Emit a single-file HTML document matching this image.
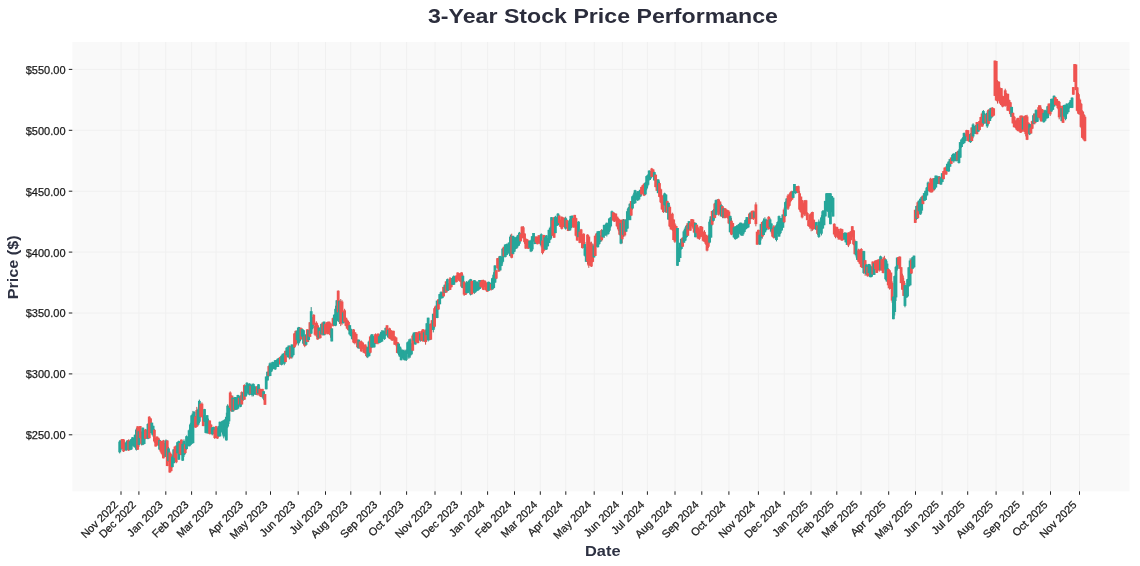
<!DOCTYPE html>
<html><head><meta charset="utf-8"><style>
html,body{margin:0;padding:0;background:#fff;}
body{width:1140px;height:566px;overflow:hidden;}
svg{display:block;will-change:transform;}
.g{fill:#26a69a}.r{fill:#ef5350}
.tl{font-family:"Liberation Sans",sans-serif;font-size:11px;fill:#1a1a1a;stroke:#1a1a1a;stroke-width:0.25px;}
.ti{font-family:"Liberation Sans",sans-serif;font-size:20.5px;font-weight:bold;fill:#2b2d3c;}
.al{font-family:"Liberation Sans",sans-serif;font-size:15px;font-weight:bold;fill:#2d3142;}
</style></head><body>
<svg width="1140" height="566" viewBox="0 0 1140 566">
<rect x="72.3" y="42" width="1057.2" height="449.3" fill="#f9f9f9"/>
<path d="M121.0 42V491.3M138.9 42V491.3M165.8 42V491.3M191.6 42V491.3M216.1 42V491.3M246.1 42V491.3M270.5 42V491.3M298.2 42V491.3M325.5 42V491.3M350.8 42V491.3M380.3 42V491.3M406.6 42V491.3M435.0 42V491.3M461.3 42V491.3M487.6 42V491.3M514.5 42V491.3M540.3 42V491.3M565.8 42V491.3M594.2 42V491.3M622.4 42V491.3M647.4 42V491.3M675.0 42V491.3M701.8 42V491.3M728.9 42V491.3M758.4 42V491.3M784.2 42V491.3M811.0 42V491.3M836.8 42V491.3M861.0 42V491.3M888.7 42V491.3M915.5 42V491.3M942.1 42V491.3M967.7 42V491.3M996.1 42V491.3M1023.0 42V491.3M1050.5 42V491.3M1079.5 42V491.3M72.3 434.8H1129.5M72.3 373.9H1129.5M72.3 313.0H1129.5M72.3 252.1H1129.5M72.3 191.2H1129.5M72.3 130.3H1129.5M72.3 69.4H1129.5" stroke="#f0f0f0" stroke-width="1" fill="none"/>
<path d="M119.70 440.3V453.4M120.99 439.6V450.5M126.13 441.5V451.0M127.41 440.4V450.1M129.98 441.1V450.2M131.27 439.0V449.8M132.55 437.2V445.5M133.84 437.9V446.6M135.12 434.2V447.8M136.41 427.9V450.5M138.98 429.7V446.8M142.83 427.5V445.2M144.12 432.1V444.1M147.97 423.2V439.2M151.83 422.6V434.6M153.12 425.8V436.8M159.54 439.2V449.7M165.97 439.4V457.1M168.54 446.9V461.9M172.39 455.3V467.4M173.68 449.3V463.2M177.53 442.2V453.3M178.82 440.7V459.8M182.68 441.8V460.9M183.96 439.4V457.0M186.53 435.5V449.8M187.82 436.9V445.9M189.10 429.5V446.3M190.39 422.8V445.6M191.67 415.2V443.8M192.96 410.9V443.3M194.24 411.5V427.1M198.10 408.5V425.7M199.38 399.6V423.1M204.52 408.9V422.1M205.81 417.4V433.3M207.09 415.1V433.8M208.38 418.6V433.4M212.24 427.3V435.3M213.52 426.7V434.3M218.66 425.9V437.0M219.95 421.5V436.5M221.23 422.2V432.3M222.52 420.7V434.6M223.80 420.0V438.4M225.09 418.9V436.5M226.37 412.7V440.5M227.66 404.3V428.1M228.94 405.8V424.0M232.80 395.5V411.7M235.37 397.0V410.0M236.65 397.5V409.6M237.94 394.8V409.2M240.51 395.4V407.2M243.08 392.2V401.0M245.65 385.3V396.6M246.94 382.2V395.1M248.22 383.9V393.8M249.51 383.4V395.3M252.08 383.6V396.5M253.36 383.5V396.3M254.65 385.7V394.0M255.93 386.8V394.9M258.50 384.1V394.4M263.64 391.0V400.2M266.22 376.5V389.3M267.50 371.7V380.4M270.07 362.4V376.1M271.36 363.3V371.9M272.64 361.8V370.1M273.93 362.5V368.0M275.21 360.0V369.9M276.50 359.9V367.2M277.78 358.6V367.0M279.07 357.6V364.4M281.64 355.3V365.4M282.92 353.8V361.5M284.21 352.7V365.2M286.78 347.3V355.2M288.06 345.5V357.4M289.35 345.5V359.4M291.92 344.4V358.5M293.20 344.9V355.6M297.06 330.0V340.2M298.35 326.9V345.5M299.63 327.0V342.8M302.20 328.5V336.9M303.49 329.9V344.8M306.06 334.2V345.7M308.63 329.9V342.1M311.20 307.1V333.9M312.48 317.1V329.3M318.91 327.5V338.8M321.48 323.8V334.5M324.05 321.6V335.4M331.76 328.1V341.4M334.33 314.1V325.7M335.62 305.7V326.2M336.90 300.1V321.8M339.47 300.4V323.9M343.33 311.4V323.3M349.75 325.0V334.6M351.04 328.6V336.4M352.32 331.7V339.8M358.75 339.6V348.6M367.75 346.8V358.1M369.03 340.6V356.4M371.60 334.2V348.2M372.89 334.0V347.8M374.17 337.3V347.6M379.31 335.0V343.2M380.60 332.1V342.2M381.88 330.0V341.9M383.17 330.5V337.4M384.46 331.4V339.8M385.74 327.6V336.1M388.31 328.9V338.1M398.59 342.7V355.2M399.88 346.3V356.9M401.16 348.4V360.3M402.45 349.5V357.9M403.73 349.7V359.8M405.02 349.7V360.4M406.30 349.5V360.9M407.59 342.3V353.8M408.87 339.3V358.8M410.16 338.4V357.7M411.44 343.4V354.5M414.02 332.5V342.0M415.30 332.2V344.6M420.44 333.1V341.6M424.30 331.1V341.7M426.87 323.2V337.9M428.15 317.7V341.5M429.44 324.1V340.2M433.29 313.6V332.4M437.15 300.4V318.2M439.72 294.1V304.5M441.00 291.3V298.7M442.29 291.8V298.2M444.86 284.6V293.1M447.43 278.6V291.4M448.72 283.1V291.0M452.57 276.9V285.0M453.86 275.3V285.0M455.14 276.4V282.3M462.85 274.5V288.3M466.71 281.0V293.8M467.99 281.7V292.9M469.28 280.4V291.7M470.56 278.9V295.4M474.42 280.0V293.8M475.71 280.8V292.6M476.99 281.2V290.9M478.28 283.0V290.5M479.56 280.0V289.1M488.56 281.7V290.9M489.84 282.3V290.2M492.41 277.6V289.7M493.70 272.2V288.6M494.98 265.1V282.8M500.13 255.8V270.5M501.41 256.9V266.1M502.70 248.1V263.5M505.27 244.5V257.4M506.55 243.7V255.2M507.84 243.5V254.3M509.12 242.1V250.7M510.41 234.6V256.4M512.98 235.7V254.6M514.26 237.0V252.0M515.55 237.6V249.3M516.83 236.3V249.0M518.12 234.9V246.4M519.40 231.9V245.5M529.69 240.6V247.8M530.97 239.7V252.1M532.26 236.0V251.0M533.54 233.0V241.6M534.83 236.2V244.2M541.25 233.4V247.3M545.11 237.0V249.9M546.39 235.1V249.8M547.68 237.9V246.4M548.96 229.6V243.1M550.25 226.6V240.1M551.53 217.2V238.4M555.39 215.8V233.2M556.67 217.7V226.1M557.96 213.0V225.4M565.67 216.7V229.6M569.53 219.3V230.5M570.81 215.9V230.3M572.10 215.2V223.5M578.52 221.3V237.1M584.95 242.0V256.5M586.23 247.2V261.9M593.95 243.8V257.6M597.80 231.4V247.5M599.09 230.9V244.7M600.37 235.5V242.1M602.94 229.7V238.4M604.23 224.7V237.9M605.51 224.2V235.6M606.80 222.7V236.5M608.08 223.6V234.5M609.37 218.4V232.1M610.65 217.1V227.7M611.94 210.6V220.4M620.94 221.6V244.2M623.51 219.1V236.8M626.08 219.4V231.8M627.36 208.9V228.7M628.65 207.0V220.0M629.93 203.3V220.2M632.50 196.2V209.6M633.79 192.7V203.8M635.07 189.8V203.2M636.36 193.1V199.6M637.64 191.2V200.9M638.93 191.1V200.3M640.21 189.8V196.8M645.35 182.0V195.0M646.64 175.7V190.3M647.93 174.2V186.3M649.21 170.3V180.5M650.50 171.0V179.9M654.35 171.7V180.6M658.21 179.2V193.3M664.63 192.7V205.6M665.92 194.1V212.5M668.49 202.5V219.6M677.49 228.0V265.8M678.77 247.8V262.0M680.06 242.8V258.0M681.34 238.4V249.6M683.91 230.2V243.0M685.20 227.0V241.0M686.48 225.0V237.7M689.05 221.1V229.8M695.48 222.8V237.2M709.62 219.4V243.4M710.90 216.3V237.7M713.47 209.1V221.6M716.04 199.5V215.4M717.33 199.1V212.4M721.18 203.8V216.5M723.75 207.7V218.2M730.18 215.7V232.9M734.04 227.2V237.8M735.32 226.1V239.7M736.61 225.3V238.6M737.89 224.8V237.6M739.18 223.7V233.0M740.46 222.7V234.8M741.75 222.8V235.7M743.03 223.1V235.9M744.32 222.6V232.5M745.60 219.5V229.7M746.89 217.1V228.5M748.17 217.8V227.6M750.74 212.4V219.5M754.60 211.7V218.2M759.74 234.3V244.9M761.02 223.7V240.4M763.60 218.4V235.7M764.88 217.3V232.6M766.17 218.7V230.4M770.02 218.2V227.7M771.31 223.4V233.5M775.16 226.5V237.8M776.45 224.2V241.4M777.73 221.4V234.0M779.02 215.5V236.6M780.30 218.0V234.2M781.59 218.2V230.6M782.87 214.5V228.0M785.44 201.3V216.7M786.73 198.3V208.3M793.16 191.2V198.3M794.44 184.0V193.1M795.73 186.4V194.1M816.29 221.9V230.2M818.86 219.5V237.9M820.14 221.3V232.9M821.43 215.2V235.4M822.72 210.3V229.0M824.00 210.2V225.2M825.29 200.9V216.3M826.57 193.3V210.6M827.86 193.3V211.7M829.14 193.3V217.6M830.43 193.3V224.2M831.71 196.0V212.2M833.00 197.7V216.5M844.56 232.4V239.5M845.85 232.2V242.4M847.13 235.8V244.9M856.13 241.0V257.5M857.42 250.7V260.2M863.84 250.8V273.9M866.41 264.4V275.1M868.98 263.9V273.3M870.27 264.7V277.4M871.55 266.5V277.2M874.12 263.2V274.9M880.55 255.7V270.4M885.69 259.2V280.2M886.98 261.1V281.7M893.40 296.6V319.2M894.69 275.6V315.5M895.97 265.9V301.0M897.26 257.3V270.5M904.97 282.9V307.3M906.25 285.2V297.9M907.54 278.9V297.2M908.82 267.3V286.5M910.11 258.3V285.3M912.68 257.0V269.3M913.97 255.5V267.9M916.54 205.6V220.0M919.11 200.4V211.3M920.39 198.7V214.8M921.68 196.5V213.1M924.25 193.1V200.8M925.53 190.8V200.4M926.82 187.0V196.3M928.10 181.6V191.5M934.53 178.0V190.3M935.81 175.6V187.6M937.10 175.7V184.1M938.38 176.3V184.1M940.96 177.4V185.0M942.24 173.0V182.3M947.38 163.6V171.2M948.67 161.5V171.7M949.95 159.1V166.7M952.52 154.0V161.2M953.81 153.4V162.7M955.09 154.0V161.0M956.38 152.0V161.2M958.95 149.2V163.6M960.23 142.0V157.8M961.52 139.5V147.6M962.80 137.0V144.2M964.09 132.5V143.3M965.37 134.2V141.2M970.52 133.2V142.8M973.09 123.3V138.3M974.37 125.9V133.8M975.66 125.0V134.0M978.23 123.3V131.7M983.37 110.1V125.3M984.65 112.9V123.6M987.22 111.2V127.9M989.79 108.4V121.1M991.08 107.7V118.8M1011.64 106.8V117.0M1023.21 116.3V129.6M1029.64 123.6V135.1M1033.49 113.6V124.1M1036.06 109.3V122.6M1037.35 109.9V122.0M1043.77 112.6V122.6M1045.06 109.7V121.3M1046.34 110.7V118.6M1047.63 105.8V118.3M1051.48 98.7V111.9M1052.77 98.5V110.0M1054.05 95.4V106.6M1061.77 108.1V121.2M1064.34 104.7V116.8M1065.62 104.8V120.3M1066.91 103.4V114.5M1068.19 106.6V112.4M1069.48 102.1V108.5M1070.76 100.2V107.9M1072.05 97.2V108.1" stroke="#2a8c82" stroke-width="1" fill="none"/>
<path d="M122.27 439.0V449.0M123.56 439.1V452.0M124.84 442.9V450.7M128.70 439.3V451.0M137.69 426.3V449.7M140.26 426.0V438.4M141.55 431.5V445.4M145.40 428.9V439.2M146.69 429.6V438.7M149.26 416.2V438.3M150.55 418.3V433.1M154.40 429.1V442.8M155.69 437.9V446.5M156.97 436.4V443.8M158.26 437.8V445.7M160.83 440.6V452.7M162.11 443.7V455.2M163.40 439.9V458.4M164.68 443.0V456.7M167.25 440.4V466.2M169.82 451.3V472.7M171.11 453.6V471.3M174.96 446.4V457.8M176.25 445.3V463.2M180.11 441.8V454.9M181.39 439.5V455.2M185.25 443.6V454.0M195.53 416.0V427.7M196.81 406.9V427.1M200.67 403.8V417.6M201.95 402.4V417.4M203.24 415.1V426.1M209.67 420.5V434.4M210.95 423.9V434.2M214.81 429.2V439.0M216.09 425.9V435.2M217.38 427.9V438.9M230.23 391.4V410.4M231.51 395.3V411.6M234.08 396.9V410.7M239.23 396.6V404.7M241.80 391.3V405.0M244.37 384.3V399.6M250.79 384.3V394.3M257.22 386.1V395.4M259.79 387.6V396.1M261.07 390.2V397.0M262.36 388.9V397.3M264.93 394.1V404.8M268.79 365.4V377.1M280.35 356.4V364.4M285.49 350.8V362.2M290.63 346.6V358.3M294.49 333.3V348.0M295.78 330.5V346.0M300.92 327.3V339.5M304.77 335.8V347.2M307.34 329.3V342.0M309.91 322.0V337.0M313.77 314.2V326.0M315.05 324.9V335.8M316.34 321.3V336.9M317.62 323.4V339.7M320.19 329.9V338.4M322.76 322.5V335.5M325.34 324.2V334.4M326.62 322.4V332.6M327.91 321.6V334.4M329.19 321.6V332.7M330.48 323.3V337.8M333.05 317.5V326.4M338.19 290.4V312.5M340.76 299.0V326.1M342.04 300.2V324.8M344.61 308.8V322.3M345.90 317.6V326.3M347.18 319.3V329.2M348.47 321.0V330.6M353.61 329.0V343.2M354.90 332.0V344.4M356.18 333.8V341.3M357.47 339.6V348.1M360.04 341.1V349.0M361.32 340.5V351.7M362.61 342.5V348.8M363.89 347.6V352.7M365.18 344.4V353.7M366.46 346.4V357.4M370.32 335.8V353.4M375.46 333.4V344.0M376.74 334.7V344.2M378.03 333.5V344.3M387.03 325.2V334.4M389.60 327.7V338.9M390.88 329.9V339.7M392.17 330.9V341.0M393.45 330.8V340.3M394.74 336.4V344.7M396.02 337.3V346.2M397.31 342.1V353.1M412.73 334.2V351.1M416.59 332.1V342.4M417.87 332.6V343.3M419.16 331.1V339.1M421.73 330.4V340.7M423.01 329.1V341.7M425.58 329.6V344.7M430.72 323.6V339.9M432.01 319.9V329.6M434.58 307.0V328.5M435.86 305.6V317.9M438.43 299.1V309.8M443.58 286.8V296.7M446.15 281.1V292.7M450.00 277.0V290.0M451.29 277.9V287.4M456.43 275.5V282.3M457.71 272.4V279.2M459.00 274.0V281.0M460.28 273.1V281.6M461.57 272.3V287.6M464.14 281.3V295.9M465.42 283.3V295.0M471.85 279.7V294.8M473.14 282.9V292.8M480.85 281.0V287.6M482.13 279.8V288.5M483.42 279.7V290.1M484.70 280.4V287.1M485.99 281.7V290.3M487.27 282.5V291.9M491.13 283.5V290.6M496.27 270.2V279.1M497.55 258.0V268.5M498.84 256.5V271.8M503.98 246.7V257.4M511.69 233.7V258.3M520.69 233.6V241.5M521.97 226.1V238.4M523.26 226.0V238.7M524.54 233.5V243.9M525.83 237.9V248.9M527.11 238.9V247.2M528.40 240.6V248.9M536.11 236.1V243.1M537.40 237.0V244.3M538.68 235.3V242.8M539.97 235.3V244.1M542.54 240.5V254.4M543.82 234.8V251.7M552.82 219.7V235.7M554.10 217.0V238.0M559.25 215.3V223.2M560.53 219.8V227.2M561.82 216.3V229.5M563.10 217.2V225.2M564.39 217.6V227.8M566.96 219.5V227.9M568.24 222.8V231.1M573.38 218.1V227.6M574.67 214.9V227.4M575.95 217.6V236.4M577.24 224.4V240.6M579.81 231.3V243.2M581.09 228.9V239.6M582.38 234.5V248.6M583.66 233.4V248.2M587.52 234.3V264.4M588.81 235.4V267.9M590.09 241.8V265.8M591.38 241.7V267.0M592.66 243.5V262.3M595.23 235.5V256.0M596.52 233.1V246.5M601.66 229.1V241.5M613.22 212.2V221.3M614.51 212.9V221.9M615.79 213.4V220.3M617.08 216.7V227.2M618.37 218.1V231.2M619.65 219.5V235.4M622.22 219.2V243.3M624.79 219.1V236.6M631.22 201.0V215.8M641.50 186.8V195.7M642.78 185.0V193.3M644.07 183.2V196.1M651.78 167.9V177.5M653.07 169.4V176.5M655.64 174.2V187.2M656.92 179.0V190.9M659.49 181.6V197.3M660.78 188.5V203.1M662.06 195.4V210.1M663.35 194.7V213.0M667.20 200.9V212.8M669.77 205.5V227.1M671.06 214.0V229.6M672.34 212.7V230.9M673.63 219.4V240.1M674.91 223.1V242.9M676.20 226.0V239.7M682.63 237.4V247.2M687.77 223.3V235.8M690.34 222.6V230.8M691.62 219.1V226.1M692.91 219.4V228.8M694.19 222.0V233.2M696.76 224.6V233.3M698.05 226.7V239.1M699.33 229.1V239.9M700.62 226.1V236.9M701.90 226.6V237.2M703.19 231.3V241.6M704.47 230.2V241.8M705.76 234.5V244.8M707.05 236.4V251.4M708.33 234.6V248.0M712.19 210.8V225.4M714.76 202.8V218.6M718.61 198.8V215.6M719.90 201.3V212.6M722.47 205.6V218.2M725.04 208.2V218.3M726.32 209.5V217.4M727.61 210.2V218.6M728.89 210.3V224.1M731.46 217.8V235.2M732.75 222.8V234.2M749.46 212.7V224.3M752.03 210.7V219.2M753.31 210.6V220.0M755.88 202.3V226.3M757.17 231.7V244.7M758.45 229.8V244.0M762.31 221.6V238.7M767.45 219.9V228.1M768.74 216.1V229.8M772.59 227.5V236.9M773.88 225.0V238.6M784.16 207.6V223.2M788.01 194.1V210.0M789.30 193.5V206.6M790.58 191.6V202.4M791.87 190.7V199.9M797.01 186.0V192.0M798.30 185.7V193.2M799.58 190.9V210.4M800.87 196.6V212.6M802.15 200.1V218.4M803.44 203.4V214.4M804.72 200.0V216.0M806.01 199.9V216.2M807.29 212.2V220.5M808.58 220.0V226.3M809.86 214.3V228.7M811.15 212.7V231.3M812.43 211.7V230.8M813.72 219.6V229.7M815.00 222.7V227.9M817.57 225.5V235.0M834.28 223.3V235.5M835.57 226.5V238.3M836.85 226.8V235.1M838.14 228.8V239.6M839.42 231.2V239.5M840.71 228.4V239.7M841.99 228.9V240.8M843.28 233.0V239.8M848.42 232.3V247.1M849.70 232.2V243.9M850.99 230.9V240.4M852.28 226.1V237.2M853.56 230.0V245.2M854.85 239.4V254.2M858.70 248.7V262.2M859.99 251.8V264.3M861.27 248.1V267.1M862.56 251.4V268.2M865.13 260.1V275.8M867.70 265.4V276.7M872.84 261.5V274.8M875.41 260.3V270.0M876.69 260.0V272.9M877.98 259.5V270.3M879.26 258.8V271.6M881.84 257.4V270.7M883.12 256.9V273.4M884.41 255.8V269.4M888.26 268.1V288.3M889.55 269.8V289.6M890.83 272.6V288.8M892.12 281.4V302.7M898.54 256.8V265.4M899.83 256.2V268.9M901.11 267.2V283.1M902.40 273.7V289.8M903.68 277.8V296.0M911.40 258.4V274.0M915.25 209.8V222.9M917.82 201.4V218.9M922.96 195.5V204.2M929.39 182.9V191.8M930.67 177.8V192.4M931.96 180.8V192.7M933.24 178.0V190.7M939.67 176.1V184.2M943.53 170.8V179.3M944.81 167.6V173.8M946.10 166.1V175.0M951.24 157.4V164.0M957.66 150.9V160.9M966.66 129.8V136.4M967.95 130.1V140.9M969.23 134.3V141.9M971.80 127.4V141.3M976.94 122.0V134.2M979.51 120.7V130.5M980.80 116.8V125.0M982.08 112.5V126.7M985.94 113.7V123.6M988.51 109.4V124.6M992.36 107.2V117.1M993.65 108.3V115.6M994.93 60.6V95.9M996.22 61.0V100.5M997.51 80.1V103.6M998.79 81.4V100.0M1000.08 87.4V103.8M1001.36 88.0V105.7M1002.65 95.7V107.3M1003.93 96.3V106.3M1005.22 88.7V106.7M1006.50 93.2V105.6M1007.79 93.8V110.9M1009.07 99.6V111.4M1010.36 102.0V115.5M1012.93 112.4V123.4M1014.21 116.1V127.4M1015.50 120.7V128.3M1016.78 118.5V130.1M1018.07 117.6V131.2M1019.35 120.0V131.4M1020.64 115.7V132.8M1021.92 115.6V132.0M1024.49 116.1V131.8M1025.78 115.2V136.4M1027.07 114.8V140.1M1028.35 122.4V133.8M1030.92 127.3V133.8M1032.21 120.5V129.1M1034.78 113.4V124.4M1038.63 105.3V117.6M1039.92 105.1V119.7M1041.20 107.5V121.6M1042.49 109.2V121.1M1048.91 103.5V113.5M1050.20 103.1V116.0M1055.34 96.9V104.9M1056.63 98.9V105.6M1057.91 100.5V109.2M1059.20 100.9V119.3M1060.48 105.7V116.7M1063.05 105.4V123.0M1073.33 87.1V94.7M1074.62 64.1V81.9M1075.90 64.5V90.1M1077.19 87.1V111.5M1078.47 92.8V114.4M1079.76 98.4V114.9M1081.04 102.9V128.1M1082.33 110.3V138.0M1083.61 111.9V139.6M1084.90 115.2V141.3" stroke="#c9504d" stroke-width="1" fill="none"/>
<rect x="118.30" y="441.6" width="2.8" height="10.7" class="g"/><rect x="119.59" y="440.5" width="2.8" height="8.8" class="g"/><rect x="120.87" y="439.1" width="2.8" height="9.6" class="r"/><rect x="122.16" y="439.5" width="2.8" height="11.9" class="r"/><rect x="123.44" y="443.1" width="2.8" height="6.6" class="r"/><rect x="124.73" y="442.4" width="2.8" height="7.9" class="g"/><rect x="126.01" y="440.5" width="2.8" height="7.9" class="g"/><rect x="127.30" y="440.2" width="2.8" height="10.2" class="r"/><rect x="128.58" y="441.2" width="2.8" height="8.6" class="g"/><rect x="129.87" y="439.2" width="2.8" height="10.2" class="g"/><rect x="131.15" y="437.3" width="2.8" height="7.9" class="g"/><rect x="132.44" y="438.1" width="2.8" height="8.3" class="g"/><rect x="133.72" y="434.9" width="2.8" height="12.5" class="g"/><rect x="135.01" y="429.5" width="2.8" height="20.2" class="g"/><rect x="136.29" y="426.3" width="2.8" height="23.4" class="r"/><rect x="137.58" y="431.2" width="2.8" height="13.8" class="g"/><rect x="138.86" y="426.1" width="2.8" height="11.9" class="r"/><rect x="140.15" y="432.6" width="2.8" height="11.3" class="r"/><rect x="141.43" y="427.7" width="2.8" height="17.1" class="g"/><rect x="142.72" y="432.1" width="2.8" height="11.9" class="g"/><rect x="144.00" y="429.5" width="2.8" height="9.2" class="r"/><rect x="145.29" y="430.3" width="2.8" height="8.0" class="r"/><rect x="146.57" y="424.0" width="2.8" height="14.8" class="g"/><rect x="147.86" y="416.7" width="2.8" height="21.5" class="r"/><rect x="149.15" y="418.4" width="2.8" height="13.7" class="r"/><rect x="150.43" y="422.7" width="2.8" height="10.4" class="g"/><rect x="151.72" y="425.8" width="2.8" height="9.6" class="g"/><rect x="153.00" y="429.8" width="2.8" height="11.7" class="r"/><rect x="154.29" y="437.9" width="2.8" height="8.6" class="r"/><rect x="155.57" y="436.6" width="2.8" height="6.5" class="r"/><rect x="156.86" y="437.8" width="2.8" height="7.8" class="r"/><rect x="158.14" y="440.1" width="2.8" height="9.5" class="g"/><rect x="159.43" y="440.9" width="2.8" height="10.6" class="r"/><rect x="160.71" y="444.0" width="2.8" height="9.9" class="r"/><rect x="162.00" y="440.5" width="2.8" height="17.8" class="r"/><rect x="163.28" y="443.1" width="2.8" height="11.9" class="r"/><rect x="164.57" y="440.4" width="2.8" height="16.6" class="g"/><rect x="165.85" y="440.5" width="2.8" height="25.5" class="r"/><rect x="167.14" y="448.4" width="2.8" height="12.6" class="g"/><rect x="168.42" y="452.5" width="2.8" height="20.0" class="r"/><rect x="169.71" y="454.2" width="2.8" height="16.9" class="r"/><rect x="170.99" y="456.6" width="2.8" height="10.5" class="g"/><rect x="172.28" y="449.4" width="2.8" height="13.8" class="g"/><rect x="173.56" y="446.6" width="2.8" height="11.2" class="r"/><rect x="174.85" y="445.7" width="2.8" height="16.6" class="r"/><rect x="176.13" y="442.2" width="2.8" height="11.0" class="g"/><rect x="177.42" y="441.1" width="2.8" height="18.6" class="g"/><rect x="178.71" y="443.0" width="2.8" height="11.1" class="r"/><rect x="179.99" y="439.6" width="2.8" height="15.5" class="r"/><rect x="181.28" y="443.8" width="2.8" height="16.9" class="g"/><rect x="182.56" y="440.9" width="2.8" height="14.2" class="g"/><rect x="183.85" y="444.4" width="2.8" height="8.7" class="r"/><rect x="185.13" y="436.2" width="2.8" height="12.9" class="g"/><rect x="186.42" y="437.3" width="2.8" height="7.6" class="g"/><rect x="187.70" y="430.3" width="2.8" height="16.0" class="g"/><rect x="188.99" y="424.4" width="2.8" height="20.6" class="g"/><rect x="190.27" y="415.4" width="2.8" height="28.3" class="g"/><rect x="191.56" y="413.6" width="2.8" height="29.5" class="g"/><rect x="192.84" y="411.7" width="2.8" height="13.8" class="g"/><rect x="194.13" y="416.5" width="2.8" height="11.1" class="r"/><rect x="195.41" y="410.0" width="2.8" height="16.7" class="r"/><rect x="196.70" y="409.5" width="2.8" height="15.2" class="g"/><rect x="197.98" y="400.9" width="2.8" height="20.8" class="g"/><rect x="199.27" y="403.8" width="2.8" height="13.0" class="r"/><rect x="200.55" y="403.7" width="2.8" height="13.0" class="r"/><rect x="201.84" y="415.5" width="2.8" height="10.6" class="r"/><rect x="203.12" y="409.1" width="2.8" height="12.5" class="g"/><rect x="204.41" y="417.6" width="2.8" height="15.3" class="g"/><rect x="205.69" y="415.2" width="2.8" height="17.6" class="g"/><rect x="206.98" y="421.2" width="2.8" height="12.0" class="g"/><rect x="208.27" y="420.5" width="2.8" height="13.5" class="r"/><rect x="209.55" y="424.7" width="2.8" height="9.4" class="r"/><rect x="210.84" y="427.4" width="2.8" height="6.8" class="g"/><rect x="212.12" y="427.0" width="2.8" height="6.5" class="g"/><rect x="213.41" y="429.7" width="2.8" height="8.3" class="r"/><rect x="214.69" y="426.2" width="2.8" height="8.8" class="r"/><rect x="215.98" y="429.5" width="2.8" height="9.0" class="r"/><rect x="217.26" y="426.5" width="2.8" height="9.8" class="g"/><rect x="218.55" y="421.8" width="2.8" height="14.5" class="g"/><rect x="219.83" y="422.5" width="2.8" height="8.2" class="g"/><rect x="221.12" y="420.9" width="2.8" height="11.5" class="g"/><rect x="222.40" y="420.7" width="2.8" height="15.7" class="g"/><rect x="223.69" y="419.5" width="2.8" height="15.6" class="g"/><rect x="224.97" y="416.8" width="2.8" height="23.6" class="g"/><rect x="226.26" y="405.7" width="2.8" height="20.9" class="g"/><rect x="227.54" y="406.7" width="2.8" height="14.6" class="g"/><rect x="228.83" y="392.5" width="2.8" height="15.3" class="r"/><rect x="230.11" y="395.8" width="2.8" height="15.5" class="r"/><rect x="231.40" y="397.6" width="2.8" height="14.0" class="g"/><rect x="232.68" y="399.1" width="2.8" height="11.1" class="r"/><rect x="233.97" y="397.1" width="2.8" height="12.5" class="g"/><rect x="235.25" y="397.9" width="2.8" height="11.6" class="g"/><rect x="236.54" y="395.0" width="2.8" height="13.5" class="g"/><rect x="237.83" y="397.8" width="2.8" height="6.7" class="r"/><rect x="239.11" y="395.8" width="2.8" height="11.0" class="g"/><rect x="240.40" y="392.1" width="2.8" height="12.3" class="r"/><rect x="241.68" y="392.3" width="2.8" height="7.5" class="g"/><rect x="242.97" y="385.1" width="2.8" height="14.6" class="r"/><rect x="244.25" y="385.9" width="2.8" height="10.6" class="g"/><rect x="245.54" y="382.8" width="2.8" height="10.7" class="g"/><rect x="246.82" y="384.1" width="2.8" height="7.9" class="g"/><rect x="248.11" y="383.6" width="2.8" height="11.2" class="g"/><rect x="249.39" y="385.9" width="2.8" height="8.2" class="r"/><rect x="250.68" y="384.7" width="2.8" height="10.4" class="g"/><rect x="251.96" y="383.9" width="2.8" height="10.9" class="g"/><rect x="253.25" y="386.4" width="2.8" height="6.8" class="g"/><rect x="254.53" y="387.5" width="2.8" height="7.3" class="g"/><rect x="255.82" y="386.2" width="2.8" height="8.3" class="r"/><rect x="257.10" y="384.3" width="2.8" height="8.9" class="g"/><rect x="258.39" y="388.9" width="2.8" height="6.8" class="r"/><rect x="259.67" y="390.6" width="2.8" height="6.4" class="r"/><rect x="260.96" y="388.9" width="2.8" height="8.3" class="r"/><rect x="262.24" y="391.2" width="2.8" height="7.5" class="g"/><rect x="263.53" y="394.1" width="2.8" height="10.7" class="r"/><rect x="264.82" y="376.5" width="2.8" height="12.8" class="g"/><rect x="266.10" y="371.7" width="2.8" height="8.8" class="g"/><rect x="267.39" y="366.1" width="2.8" height="9.9" class="r"/><rect x="268.67" y="363.3" width="2.8" height="12.7" class="g"/><rect x="269.96" y="364.5" width="2.8" height="7.0" class="g"/><rect x="271.24" y="361.9" width="2.8" height="7.1" class="g"/><rect x="272.53" y="362.7" width="2.8" height="4.7" class="g"/><rect x="273.81" y="360.2" width="2.8" height="9.2" class="g"/><rect x="275.10" y="360.2" width="2.8" height="6.0" class="g"/><rect x="276.38" y="358.8" width="2.8" height="8.2" class="g"/><rect x="277.67" y="358.0" width="2.8" height="5.6" class="g"/><rect x="278.95" y="357.1" width="2.8" height="7.3" class="r"/><rect x="280.24" y="355.7" width="2.8" height="9.1" class="g"/><rect x="281.52" y="353.8" width="2.8" height="7.6" class="g"/><rect x="282.81" y="353.3" width="2.8" height="10.5" class="g"/><rect x="284.09" y="350.8" width="2.8" height="11.3" class="r"/><rect x="285.38" y="347.7" width="2.8" height="7.5" class="g"/><rect x="286.66" y="346.8" width="2.8" height="10.5" class="g"/><rect x="287.95" y="345.7" width="2.8" height="11.8" class="g"/><rect x="289.23" y="346.7" width="2.8" height="11.6" class="r"/><rect x="290.52" y="344.5" width="2.8" height="12.8" class="g"/><rect x="291.80" y="345.1" width="2.8" height="10.0" class="g"/><rect x="293.09" y="333.4" width="2.8" height="13.9" class="r"/><rect x="294.38" y="330.9" width="2.8" height="13.7" class="r"/><rect x="295.66" y="331.1" width="2.8" height="9.0" class="g"/><rect x="296.95" y="327.6" width="2.8" height="15.8" class="g"/><rect x="298.23" y="328.6" width="2.8" height="12.7" class="g"/><rect x="299.52" y="328.1" width="2.8" height="11.4" class="r"/><rect x="300.80" y="329.1" width="2.8" height="7.5" class="g"/><rect x="302.09" y="330.2" width="2.8" height="13.5" class="g"/><rect x="303.37" y="336.2" width="2.8" height="9.7" class="r"/><rect x="304.66" y="334.5" width="2.8" height="10.3" class="g"/><rect x="305.94" y="329.3" width="2.8" height="12.6" class="r"/><rect x="307.23" y="330.0" width="2.8" height="10.1" class="g"/><rect x="308.51" y="322.3" width="2.8" height="14.6" class="r"/><rect x="309.80" y="311.2" width="2.8" height="22.4" class="g"/><rect x="311.08" y="317.7" width="2.8" height="10.7" class="g"/><rect x="312.37" y="314.8" width="2.8" height="10.1" class="r"/><rect x="313.65" y="325.5" width="2.8" height="9.2" class="r"/><rect x="314.94" y="322.7" width="2.8" height="12.6" class="r"/><rect x="316.22" y="325.3" width="2.8" height="14.2" class="r"/><rect x="317.51" y="327.5" width="2.8" height="10.8" class="g"/><rect x="318.79" y="330.9" width="2.8" height="7.2" class="r"/><rect x="320.08" y="323.8" width="2.8" height="10.6" class="g"/><rect x="321.36" y="322.5" width="2.8" height="11.2" class="r"/><rect x="322.65" y="321.6" width="2.8" height="13.6" class="g"/><rect x="323.94" y="324.2" width="2.8" height="10.1" class="r"/><rect x="325.22" y="322.4" width="2.8" height="10.1" class="r"/><rect x="326.51" y="321.9" width="2.8" height="12.2" class="r"/><rect x="327.79" y="321.7" width="2.8" height="10.6" class="r"/><rect x="329.08" y="323.4" width="2.8" height="11.8" class="r"/><rect x="330.36" y="328.4" width="2.8" height="13.0" class="g"/><rect x="331.65" y="318.1" width="2.8" height="8.0" class="r"/><rect x="332.93" y="314.7" width="2.8" height="10.7" class="g"/><rect x="334.22" y="308.8" width="2.8" height="16.8" class="g"/><rect x="335.50" y="300.3" width="2.8" height="20.6" class="g"/><rect x="336.79" y="290.7" width="2.8" height="21.6" class="r"/><rect x="338.07" y="300.9" width="2.8" height="21.2" class="g"/><rect x="339.36" y="301.3" width="2.8" height="22.3" class="r"/><rect x="340.64" y="301.6" width="2.8" height="19.8" class="r"/><rect x="341.93" y="312.4" width="2.8" height="10.9" class="g"/><rect x="343.21" y="310.3" width="2.8" height="11.5" class="r"/><rect x="344.50" y="317.8" width="2.8" height="8.0" class="r"/><rect x="345.78" y="320.2" width="2.8" height="8.4" class="r"/><rect x="347.07" y="321.9" width="2.8" height="8.3" class="r"/><rect x="348.35" y="325.2" width="2.8" height="9.2" class="g"/><rect x="349.64" y="329.0" width="2.8" height="7.1" class="g"/><rect x="350.92" y="332.0" width="2.8" height="7.1" class="g"/><rect x="352.21" y="329.5" width="2.8" height="13.0" class="r"/><rect x="353.50" y="332.3" width="2.8" height="10.8" class="r"/><rect x="354.78" y="333.9" width="2.8" height="7.3" class="r"/><rect x="356.07" y="339.7" width="2.8" height="7.6" class="r"/><rect x="357.35" y="339.7" width="2.8" height="8.7" class="g"/><rect x="358.64" y="341.5" width="2.8" height="6.5" class="r"/><rect x="359.92" y="341.4" width="2.8" height="10.0" class="r"/><rect x="361.21" y="342.5" width="2.8" height="6.3" class="r"/><rect x="362.49" y="348.2" width="2.8" height="4.5" class="r"/><rect x="363.78" y="344.5" width="2.8" height="8.9" class="r"/><rect x="365.06" y="346.8" width="2.8" height="9.3" class="r"/><rect x="366.35" y="347.3" width="2.8" height="9.4" class="g"/><rect x="367.63" y="341.6" width="2.8" height="14.5" class="g"/><rect x="368.92" y="336.5" width="2.8" height="16.2" class="r"/><rect x="370.20" y="334.6" width="2.8" height="12.8" class="g"/><rect x="371.49" y="335.7" width="2.8" height="11.0" class="g"/><rect x="372.77" y="337.5" width="2.8" height="9.8" class="g"/><rect x="374.06" y="334.2" width="2.8" height="8.8" class="r"/><rect x="375.34" y="335.8" width="2.8" height="7.7" class="r"/><rect x="376.63" y="333.6" width="2.8" height="9.7" class="r"/><rect x="377.91" y="336.2" width="2.8" height="6.8" class="g"/><rect x="379.20" y="333.7" width="2.8" height="8.5" class="g"/><rect x="380.48" y="331.6" width="2.8" height="9.9" class="g"/><rect x="381.77" y="330.6" width="2.8" height="6.5" class="g"/><rect x="383.06" y="332.1" width="2.8" height="7.0" class="g"/><rect x="384.34" y="327.9" width="2.8" height="7.6" class="g"/><rect x="385.63" y="325.3" width="2.8" height="9.1" class="r"/><rect x="386.91" y="329.8" width="2.8" height="7.6" class="g"/><rect x="388.20" y="328.3" width="2.8" height="10.2" class="r"/><rect x="389.48" y="330.2" width="2.8" height="9.0" class="r"/><rect x="390.77" y="331.2" width="2.8" height="9.3" class="r"/><rect x="392.05" y="330.8" width="2.8" height="9.0" class="r"/><rect x="393.34" y="336.4" width="2.8" height="8.3" class="r"/><rect x="394.62" y="337.5" width="2.8" height="7.2" class="r"/><rect x="395.91" y="342.1" width="2.8" height="10.8" class="r"/><rect x="397.19" y="343.6" width="2.8" height="10.0" class="g"/><rect x="398.48" y="346.8" width="2.8" height="9.7" class="g"/><rect x="399.76" y="350.4" width="2.8" height="9.8" class="g"/><rect x="401.05" y="350.0" width="2.8" height="7.9" class="g"/><rect x="402.33" y="351.0" width="2.8" height="8.2" class="g"/><rect x="403.62" y="350.8" width="2.8" height="9.5" class="g"/><rect x="404.90" y="350.6" width="2.8" height="9.2" class="g"/><rect x="406.19" y="342.3" width="2.8" height="11.0" class="g"/><rect x="407.47" y="341.2" width="2.8" height="16.4" class="g"/><rect x="408.76" y="339.4" width="2.8" height="16.1" class="g"/><rect x="410.04" y="343.8" width="2.8" height="10.6" class="g"/><rect x="411.33" y="335.6" width="2.8" height="15.1" class="r"/><rect x="412.62" y="332.6" width="2.8" height="8.0" class="g"/><rect x="413.90" y="332.5" width="2.8" height="12.0" class="g"/><rect x="415.19" y="332.3" width="2.8" height="9.9" class="r"/><rect x="416.47" y="334.0" width="2.8" height="9.1" class="r"/><rect x="417.76" y="331.5" width="2.8" height="7.6" class="r"/><rect x="419.04" y="333.4" width="2.8" height="7.3" class="g"/><rect x="420.33" y="331.1" width="2.8" height="9.6" class="r"/><rect x="421.61" y="329.2" width="2.8" height="12.2" class="r"/><rect x="422.90" y="332.2" width="2.8" height="8.9" class="g"/><rect x="424.18" y="329.9" width="2.8" height="12.2" class="r"/><rect x="425.47" y="323.3" width="2.8" height="11.8" class="g"/><rect x="426.75" y="317.7" width="2.8" height="22.6" class="g"/><rect x="428.04" y="324.6" width="2.8" height="15.5" class="g"/><rect x="429.32" y="323.6" width="2.8" height="16.1" class="r"/><rect x="430.61" y="320.2" width="2.8" height="9.3" class="r"/><rect x="431.89" y="313.8" width="2.8" height="16.2" class="g"/><rect x="433.18" y="308.2" width="2.8" height="18.5" class="r"/><rect x="434.46" y="305.8" width="2.8" height="11.7" class="r"/><rect x="435.75" y="300.7" width="2.8" height="17.3" class="g"/><rect x="437.03" y="299.3" width="2.8" height="10.2" class="r"/><rect x="438.32" y="294.1" width="2.8" height="10.1" class="g"/><rect x="439.60" y="292.2" width="2.8" height="6.2" class="g"/><rect x="440.89" y="292.4" width="2.8" height="5.7" class="g"/><rect x="442.18" y="286.9" width="2.8" height="9.5" class="r"/><rect x="443.46" y="284.8" width="2.8" height="8.0" class="g"/><rect x="444.75" y="281.4" width="2.8" height="11.1" class="r"/><rect x="446.03" y="279.2" width="2.8" height="11.3" class="g"/><rect x="447.32" y="283.4" width="2.8" height="6.4" class="g"/><rect x="448.60" y="278.5" width="2.8" height="11.4" class="r"/><rect x="449.89" y="278.2" width="2.8" height="9.0" class="r"/><rect x="451.17" y="278.0" width="2.8" height="6.7" class="g"/><rect x="452.46" y="276.1" width="2.8" height="8.6" class="g"/><rect x="453.74" y="276.4" width="2.8" height="5.8" class="g"/><rect x="455.03" y="275.5" width="2.8" height="6.6" class="r"/><rect x="456.31" y="272.5" width="2.8" height="6.2" class="r"/><rect x="457.60" y="274.0" width="2.8" height="6.6" class="r"/><rect x="458.88" y="273.1" width="2.8" height="8.5" class="r"/><rect x="460.17" y="272.4" width="2.8" height="14.2" class="r"/><rect x="461.45" y="275.8" width="2.8" height="12.2" class="g"/><rect x="462.74" y="281.6" width="2.8" height="13.0" class="r"/><rect x="464.02" y="283.4" width="2.8" height="11.5" class="r"/><rect x="465.31" y="282.4" width="2.8" height="10.8" class="g"/><rect x="466.59" y="282.0" width="2.8" height="10.9" class="g"/><rect x="467.88" y="280.5" width="2.8" height="10.5" class="g"/><rect x="469.16" y="279.2" width="2.8" height="15.3" class="g"/><rect x="470.45" y="280.9" width="2.8" height="13.3" class="r"/><rect x="471.74" y="283.0" width="2.8" height="9.6" class="r"/><rect x="473.02" y="280.2" width="2.8" height="12.5" class="g"/><rect x="474.31" y="282.0" width="2.8" height="9.7" class="g"/><rect x="475.59" y="281.8" width="2.8" height="9.0" class="g"/><rect x="476.88" y="283.8" width="2.8" height="6.3" class="g"/><rect x="478.16" y="280.0" width="2.8" height="9.0" class="g"/><rect x="479.45" y="281.6" width="2.8" height="5.3" class="r"/><rect x="480.73" y="280.0" width="2.8" height="7.5" class="r"/><rect x="482.02" y="281.0" width="2.8" height="8.8" class="r"/><rect x="483.30" y="280.6" width="2.8" height="6.4" class="r"/><rect x="484.59" y="283.0" width="2.8" height="7.3" class="r"/><rect x="485.87" y="282.6" width="2.8" height="9.1" class="r"/><rect x="487.16" y="281.8" width="2.8" height="9.0" class="g"/><rect x="488.44" y="282.8" width="2.8" height="6.7" class="g"/><rect x="489.73" y="283.8" width="2.8" height="6.0" class="r"/><rect x="491.01" y="278.2" width="2.8" height="11.2" class="g"/><rect x="492.30" y="274.7" width="2.8" height="13.3" class="g"/><rect x="493.58" y="265.5" width="2.8" height="17.1" class="g"/><rect x="494.87" y="270.3" width="2.8" height="8.3" class="r"/><rect x="496.15" y="258.2" width="2.8" height="10.0" class="r"/><rect x="497.44" y="258.7" width="2.8" height="12.8" class="r"/><rect x="498.73" y="256.0" width="2.8" height="14.4" class="g"/><rect x="500.01" y="257.5" width="2.8" height="8.4" class="g"/><rect x="501.30" y="248.7" width="2.8" height="13.1" class="g"/><rect x="502.58" y="246.8" width="2.8" height="9.6" class="r"/><rect x="503.87" y="244.5" width="2.8" height="12.5" class="g"/><rect x="505.15" y="244.3" width="2.8" height="10.8" class="g"/><rect x="506.44" y="244.8" width="2.8" height="8.8" class="g"/><rect x="507.72" y="242.6" width="2.8" height="8.1" class="g"/><rect x="509.01" y="236.6" width="2.8" height="19.5" class="g"/><rect x="510.29" y="236.5" width="2.8" height="21.3" class="r"/><rect x="511.58" y="235.9" width="2.8" height="18.0" class="g"/><rect x="512.86" y="237.2" width="2.8" height="14.5" class="g"/><rect x="514.15" y="238.4" width="2.8" height="10.0" class="g"/><rect x="515.43" y="236.8" width="2.8" height="11.0" class="g"/><rect x="516.72" y="234.9" width="2.8" height="11.0" class="g"/><rect x="518.00" y="232.7" width="2.8" height="11.0" class="g"/><rect x="519.29" y="234.0" width="2.8" height="7.3" class="r"/><rect x="520.57" y="226.7" width="2.8" height="11.3" class="r"/><rect x="521.86" y="227.3" width="2.8" height="10.7" class="r"/><rect x="523.14" y="233.5" width="2.8" height="8.7" class="r"/><rect x="524.43" y="239.0" width="2.8" height="9.6" class="r"/><rect x="525.71" y="239.4" width="2.8" height="7.2" class="r"/><rect x="527.00" y="240.6" width="2.8" height="8.2" class="r"/><rect x="528.29" y="240.8" width="2.8" height="7.0" class="g"/><rect x="529.57" y="240.6" width="2.8" height="10.9" class="g"/><rect x="530.86" y="236.2" width="2.8" height="13.2" class="g"/><rect x="532.14" y="233.0" width="2.8" height="6.9" class="g"/><rect x="533.43" y="237.5" width="2.8" height="6.5" class="g"/><rect x="534.71" y="236.8" width="2.8" height="5.9" class="r"/><rect x="536.00" y="237.3" width="2.8" height="6.9" class="r"/><rect x="537.28" y="235.5" width="2.8" height="7.0" class="r"/><rect x="538.57" y="235.3" width="2.8" height="8.4" class="r"/><rect x="539.85" y="234.2" width="2.8" height="11.3" class="g"/><rect x="541.14" y="240.6" width="2.8" height="12.5" class="r"/><rect x="542.42" y="235.0" width="2.8" height="15.8" class="r"/><rect x="543.71" y="237.4" width="2.8" height="12.0" class="g"/><rect x="544.99" y="235.4" width="2.8" height="14.1" class="g"/><rect x="546.28" y="238.3" width="2.8" height="8.0" class="g"/><rect x="547.56" y="229.9" width="2.8" height="13.1" class="g"/><rect x="548.85" y="227.7" width="2.8" height="11.8" class="g"/><rect x="550.13" y="217.2" width="2.8" height="18.2" class="g"/><rect x="551.42" y="220.3" width="2.8" height="15.4" class="r"/><rect x="552.70" y="217.3" width="2.8" height="20.4" class="r"/><rect x="553.99" y="216.8" width="2.8" height="16.3" class="g"/><rect x="555.27" y="217.7" width="2.8" height="8.1" class="g"/><rect x="556.56" y="213.7" width="2.8" height="11.4" class="g"/><rect x="557.85" y="215.6" width="2.8" height="7.5" class="r"/><rect x="559.13" y="219.9" width="2.8" height="7.0" class="r"/><rect x="560.42" y="216.9" width="2.8" height="11.9" class="r"/><rect x="561.70" y="218.1" width="2.8" height="6.7" class="r"/><rect x="562.99" y="217.8" width="2.8" height="9.2" class="r"/><rect x="564.27" y="218.2" width="2.8" height="10.5" class="g"/><rect x="565.56" y="220.1" width="2.8" height="7.3" class="r"/><rect x="566.84" y="222.9" width="2.8" height="8.1" class="r"/><rect x="568.13" y="220.6" width="2.8" height="9.9" class="g"/><rect x="569.41" y="215.9" width="2.8" height="12.3" class="g"/><rect x="570.70" y="216.0" width="2.8" height="6.8" class="g"/><rect x="571.98" y="218.1" width="2.8" height="9.3" class="r"/><rect x="573.27" y="214.9" width="2.8" height="12.4" class="r"/><rect x="574.55" y="218.1" width="2.8" height="17.6" class="r"/><rect x="575.84" y="224.4" width="2.8" height="16.2" class="r"/><rect x="577.12" y="221.6" width="2.8" height="15.5" class="g"/><rect x="578.41" y="231.7" width="2.8" height="11.2" class="r"/><rect x="579.69" y="229.4" width="2.8" height="10.1" class="r"/><rect x="580.98" y="234.5" width="2.8" height="13.5" class="r"/><rect x="582.26" y="233.7" width="2.8" height="13.2" class="r"/><rect x="583.55" y="244.1" width="2.8" height="11.6" class="g"/><rect x="584.83" y="249.3" width="2.8" height="12.5" class="g"/><rect x="586.12" y="234.6" width="2.8" height="26.8" class="r"/><rect x="587.41" y="236.6" width="2.8" height="29.0" class="r"/><rect x="588.69" y="242.7" width="2.8" height="19.9" class="r"/><rect x="589.98" y="245.5" width="2.8" height="21.0" class="r"/><rect x="591.26" y="245.8" width="2.8" height="16.1" class="r"/><rect x="592.55" y="245.5" width="2.8" height="11.9" class="g"/><rect x="593.83" y="235.8" width="2.8" height="20.1" class="r"/><rect x="595.12" y="233.5" width="2.8" height="11.4" class="r"/><rect x="596.40" y="231.4" width="2.8" height="15.8" class="g"/><rect x="597.69" y="231.1" width="2.8" height="13.0" class="g"/><rect x="598.97" y="235.6" width="2.8" height="5.7" class="g"/><rect x="600.26" y="230.0" width="2.8" height="10.3" class="r"/><rect x="601.54" y="230.0" width="2.8" height="7.2" class="g"/><rect x="602.83" y="224.9" width="2.8" height="10.8" class="g"/><rect x="604.11" y="225.3" width="2.8" height="9.6" class="g"/><rect x="605.40" y="222.8" width="2.8" height="11.6" class="g"/><rect x="606.68" y="225.3" width="2.8" height="8.8" class="g"/><rect x="607.97" y="218.4" width="2.8" height="12.3" class="g"/><rect x="609.25" y="217.4" width="2.8" height="9.0" class="g"/><rect x="610.54" y="211.3" width="2.8" height="8.6" class="g"/><rect x="611.82" y="212.3" width="2.8" height="8.2" class="r"/><rect x="613.11" y="213.8" width="2.8" height="7.8" class="r"/><rect x="614.39" y="213.6" width="2.8" height="6.7" class="r"/><rect x="615.68" y="216.7" width="2.8" height="9.5" class="r"/><rect x="616.97" y="218.7" width="2.8" height="10.7" class="r"/><rect x="618.25" y="219.7" width="2.8" height="15.0" class="r"/><rect x="619.54" y="223.1" width="2.8" height="20.5" class="g"/><rect x="620.82" y="219.8" width="2.8" height="19.5" class="r"/><rect x="622.11" y="220.4" width="2.8" height="14.5" class="g"/><rect x="623.39" y="220.8" width="2.8" height="14.6" class="r"/><rect x="624.68" y="219.5" width="2.8" height="12.2" class="g"/><rect x="625.96" y="211.2" width="2.8" height="17.4" class="g"/><rect x="627.25" y="207.7" width="2.8" height="11.3" class="g"/><rect x="628.53" y="203.8" width="2.8" height="16.3" class="g"/><rect x="629.82" y="201.1" width="2.8" height="14.5" class="r"/><rect x="631.10" y="196.3" width="2.8" height="12.2" class="g"/><rect x="632.39" y="194.6" width="2.8" height="9.2" class="g"/><rect x="633.67" y="190.2" width="2.8" height="13.0" class="g"/><rect x="634.96" y="193.7" width="2.8" height="5.6" class="g"/><rect x="636.24" y="191.3" width="2.8" height="9.0" class="g"/><rect x="637.53" y="191.5" width="2.8" height="7.9" class="g"/><rect x="638.81" y="189.8" width="2.8" height="6.9" class="g"/><rect x="640.10" y="186.9" width="2.8" height="7.5" class="r"/><rect x="641.38" y="185.3" width="2.8" height="7.2" class="r"/><rect x="642.67" y="183.8" width="2.8" height="11.8" class="r"/><rect x="643.95" y="182.8" width="2.8" height="11.6" class="g"/><rect x="645.24" y="176.1" width="2.8" height="12.4" class="g"/><rect x="646.53" y="175.1" width="2.8" height="9.7" class="g"/><rect x="647.81" y="170.6" width="2.8" height="9.2" class="g"/><rect x="649.10" y="171.1" width="2.8" height="7.4" class="g"/><rect x="650.38" y="168.5" width="2.8" height="8.4" class="r"/><rect x="651.67" y="169.4" width="2.8" height="7.0" class="r"/><rect x="652.95" y="172.1" width="2.8" height="8.3" class="g"/><rect x="654.24" y="174.7" width="2.8" height="12.4" class="r"/><rect x="655.52" y="179.6" width="2.8" height="11.2" class="r"/><rect x="656.81" y="179.6" width="2.8" height="13.5" class="g"/><rect x="658.09" y="183.1" width="2.8" height="13.8" class="r"/><rect x="659.38" y="189.3" width="2.8" height="13.0" class="r"/><rect x="660.66" y="195.9" width="2.8" height="13.4" class="r"/><rect x="661.95" y="195.5" width="2.8" height="16.5" class="r"/><rect x="663.23" y="193.4" width="2.8" height="11.8" class="g"/><rect x="664.52" y="194.6" width="2.8" height="17.8" class="g"/><rect x="665.80" y="200.9" width="2.8" height="11.7" class="r"/><rect x="667.09" y="202.8" width="2.8" height="16.8" class="g"/><rect x="668.37" y="206.9" width="2.8" height="19.5" class="r"/><rect x="669.66" y="215.9" width="2.8" height="13.5" class="r"/><rect x="670.94" y="213.7" width="2.8" height="15.9" class="r"/><rect x="672.23" y="219.5" width="2.8" height="20.5" class="r"/><rect x="673.51" y="224.5" width="2.8" height="17.2" class="r"/><rect x="674.80" y="226.1" width="2.8" height="13.5" class="r"/><rect x="676.09" y="228.0" width="2.8" height="37.8" class="g"/><rect x="677.37" y="247.8" width="2.8" height="14.2" class="g"/><rect x="678.66" y="242.8" width="2.8" height="15.2" class="g"/><rect x="679.94" y="238.9" width="2.8" height="10.1" class="g"/><rect x="681.23" y="237.7" width="2.8" height="9.0" class="r"/><rect x="682.51" y="231.4" width="2.8" height="11.3" class="g"/><rect x="683.80" y="228.6" width="2.8" height="12.0" class="g"/><rect x="685.08" y="225.7" width="2.8" height="11.4" class="g"/><rect x="686.37" y="223.3" width="2.8" height="12.5" class="r"/><rect x="687.65" y="221.2" width="2.8" height="8.3" class="g"/><rect x="688.94" y="222.8" width="2.8" height="7.9" class="r"/><rect x="690.22" y="219.2" width="2.8" height="6.7" class="r"/><rect x="691.51" y="219.5" width="2.8" height="8.0" class="r"/><rect x="692.79" y="222.5" width="2.8" height="10.0" class="r"/><rect x="694.08" y="222.9" width="2.8" height="14.3" class="g"/><rect x="695.36" y="224.7" width="2.8" height="8.5" class="r"/><rect x="696.65" y="227.7" width="2.8" height="10.7" class="r"/><rect x="697.93" y="229.7" width="2.8" height="9.1" class="r"/><rect x="699.22" y="226.2" width="2.8" height="10.5" class="r"/><rect x="700.50" y="226.8" width="2.8" height="9.3" class="r"/><rect x="701.79" y="232.3" width="2.8" height="8.5" class="r"/><rect x="703.07" y="231.9" width="2.8" height="9.6" class="r"/><rect x="704.36" y="234.8" width="2.8" height="8.9" class="r"/><rect x="705.65" y="238.2" width="2.8" height="12.4" class="r"/><rect x="706.93" y="235.6" width="2.8" height="11.1" class="r"/><rect x="708.22" y="221.7" width="2.8" height="20.9" class="g"/><rect x="709.50" y="216.4" width="2.8" height="21.2" class="g"/><rect x="710.79" y="211.0" width="2.8" height="13.7" class="r"/><rect x="712.07" y="210.2" width="2.8" height="10.6" class="g"/><rect x="713.36" y="203.6" width="2.8" height="14.3" class="r"/><rect x="714.64" y="200.1" width="2.8" height="14.8" class="g"/><rect x="715.93" y="201.0" width="2.8" height="11.1" class="g"/><rect x="717.21" y="199.4" width="2.8" height="15.3" class="r"/><rect x="718.50" y="201.6" width="2.8" height="9.8" class="r"/><rect x="719.78" y="205.2" width="2.8" height="11.2" class="g"/><rect x="721.07" y="206.2" width="2.8" height="10.4" class="r"/><rect x="722.35" y="208.3" width="2.8" height="9.1" class="g"/><rect x="723.64" y="208.3" width="2.8" height="9.8" class="r"/><rect x="724.92" y="209.6" width="2.8" height="7.8" class="r"/><rect x="726.21" y="210.4" width="2.8" height="7.0" class="r"/><rect x="727.49" y="211.6" width="2.8" height="11.8" class="r"/><rect x="728.78" y="215.9" width="2.8" height="16.2" class="g"/><rect x="730.06" y="220.7" width="2.8" height="13.9" class="r"/><rect x="731.35" y="223.0" width="2.8" height="11.1" class="r"/><rect x="732.64" y="227.3" width="2.8" height="10.1" class="g"/><rect x="733.92" y="226.4" width="2.8" height="12.7" class="g"/><rect x="735.21" y="227.6" width="2.8" height="10.9" class="g"/><rect x="736.49" y="225.4" width="2.8" height="12.1" class="g"/><rect x="737.78" y="224.0" width="2.8" height="8.7" class="g"/><rect x="739.06" y="222.7" width="2.8" height="11.5" class="g"/><rect x="740.35" y="223.9" width="2.8" height="11.7" class="g"/><rect x="741.63" y="224.0" width="2.8" height="10.3" class="g"/><rect x="742.92" y="223.8" width="2.8" height="8.2" class="g"/><rect x="744.20" y="220.0" width="2.8" height="9.2" class="g"/><rect x="745.49" y="217.1" width="2.8" height="11.1" class="g"/><rect x="746.77" y="218.5" width="2.8" height="8.9" class="g"/><rect x="748.06" y="213.6" width="2.8" height="10.3" class="r"/><rect x="749.34" y="212.6" width="2.8" height="6.2" class="g"/><rect x="750.63" y="210.9" width="2.8" height="7.9" class="r"/><rect x="751.91" y="210.8" width="2.8" height="8.2" class="r"/><rect x="753.20" y="211.7" width="2.8" height="6.1" class="g"/><rect x="754.48" y="204.4" width="2.8" height="19.7" class="r"/><rect x="755.77" y="231.7" width="2.8" height="13.0" class="r"/><rect x="757.05" y="229.8" width="2.8" height="14.2" class="r"/><rect x="758.34" y="234.8" width="2.8" height="9.8" class="g"/><rect x="759.62" y="224.1" width="2.8" height="14.1" class="g"/><rect x="760.91" y="222.0" width="2.8" height="14.7" class="r"/><rect x="762.20" y="220.6" width="2.8" height="14.4" class="g"/><rect x="763.48" y="219.3" width="2.8" height="12.9" class="g"/><rect x="764.77" y="219.9" width="2.8" height="10.2" class="g"/><rect x="766.05" y="220.4" width="2.8" height="7.5" class="r"/><rect x="767.34" y="216.8" width="2.8" height="12.3" class="r"/><rect x="768.62" y="219.4" width="2.8" height="7.8" class="g"/><rect x="769.91" y="223.5" width="2.8" height="8.2" class="g"/><rect x="771.19" y="229.1" width="2.8" height="7.5" class="r"/><rect x="772.48" y="226.3" width="2.8" height="11.6" class="r"/><rect x="773.76" y="227.3" width="2.8" height="10.1" class="g"/><rect x="775.05" y="225.3" width="2.8" height="14.7" class="g"/><rect x="776.33" y="222.1" width="2.8" height="10.3" class="g"/><rect x="777.62" y="216.1" width="2.8" height="20.5" class="g"/><rect x="778.90" y="220.0" width="2.8" height="13.2" class="g"/><rect x="780.19" y="218.2" width="2.8" height="12.3" class="g"/><rect x="781.47" y="214.5" width="2.8" height="13.2" class="g"/><rect x="782.76" y="209.5" width="2.8" height="12.7" class="r"/><rect x="784.04" y="202.1" width="2.8" height="14.0" class="g"/><rect x="785.33" y="198.5" width="2.8" height="9.8" class="g"/><rect x="786.61" y="195.6" width="2.8" height="13.1" class="r"/><rect x="787.90" y="194.7" width="2.8" height="11.1" class="r"/><rect x="789.18" y="192.4" width="2.8" height="8.8" class="r"/><rect x="790.47" y="191.3" width="2.8" height="8.4" class="r"/><rect x="791.76" y="191.2" width="2.8" height="6.7" class="g"/><rect x="793.04" y="184.0" width="2.8" height="9.1" class="g"/><rect x="794.33" y="186.8" width="2.8" height="6.2" class="g"/><rect x="795.61" y="186.3" width="2.8" height="5.0" class="r"/><rect x="796.90" y="186.2" width="2.8" height="6.9" class="r"/><rect x="798.18" y="193.3" width="2.8" height="16.3" class="r"/><rect x="799.47" y="196.6" width="2.8" height="15.5" class="r"/><rect x="800.75" y="200.1" width="2.8" height="17.3" class="r"/><rect x="802.04" y="203.4" width="2.8" height="10.5" class="r"/><rect x="803.32" y="201.2" width="2.8" height="13.4" class="r"/><rect x="804.61" y="200.3" width="2.8" height="13.1" class="r"/><rect x="805.89" y="213.0" width="2.8" height="7.1" class="r"/><rect x="807.18" y="220.4" width="2.8" height="5.7" class="r"/><rect x="808.46" y="214.5" width="2.8" height="12.5" class="r"/><rect x="809.75" y="213.4" width="2.8" height="15.0" class="r"/><rect x="811.03" y="212.0" width="2.8" height="17.1" class="r"/><rect x="812.32" y="219.7" width="2.8" height="9.3" class="r"/><rect x="813.60" y="222.7" width="2.8" height="4.8" class="r"/><rect x="814.89" y="222.2" width="2.8" height="7.6" class="g"/><rect x="816.17" y="225.5" width="2.8" height="8.3" class="r"/><rect x="817.46" y="221.7" width="2.8" height="15.2" class="g"/><rect x="818.74" y="222.3" width="2.8" height="9.9" class="g"/><rect x="820.03" y="217.4" width="2.8" height="16.3" class="g"/><rect x="821.32" y="211.2" width="2.8" height="17.3" class="g"/><rect x="822.60" y="210.6" width="2.8" height="14.6" class="g"/><rect x="823.89" y="200.9" width="2.8" height="15.5" class="g"/><rect x="825.17" y="193.3" width="2.8" height="17.3" class="g"/><rect x="826.46" y="193.3" width="2.8" height="18.4" class="g"/><rect x="827.74" y="193.3" width="2.8" height="24.3" class="g"/><rect x="829.03" y="193.3" width="2.8" height="30.9" class="g"/><rect x="830.31" y="196.0" width="2.8" height="16.1" class="g"/><rect x="831.60" y="197.7" width="2.8" height="18.8" class="g"/><rect x="832.88" y="223.8" width="2.8" height="10.6" class="r"/><rect x="834.17" y="226.9" width="2.8" height="10.0" class="r"/><rect x="835.45" y="226.9" width="2.8" height="8.1" class="r"/><rect x="836.74" y="228.9" width="2.8" height="9.0" class="r"/><rect x="838.02" y="231.9" width="2.8" height="7.5" class="r"/><rect x="839.31" y="228.8" width="2.8" height="9.2" class="r"/><rect x="840.59" y="229.2" width="2.8" height="11.4" class="r"/><rect x="841.88" y="233.0" width="2.8" height="6.7" class="r"/><rect x="843.16" y="233.1" width="2.8" height="6.1" class="g"/><rect x="844.45" y="232.9" width="2.8" height="9.4" class="g"/><rect x="845.73" y="235.8" width="2.8" height="9.1" class="g"/><rect x="847.02" y="232.6" width="2.8" height="12.8" class="r"/><rect x="848.30" y="233.0" width="2.8" height="10.8" class="r"/><rect x="849.59" y="231.2" width="2.8" height="8.8" class="r"/><rect x="850.88" y="226.2" width="2.8" height="9.8" class="r"/><rect x="852.16" y="230.3" width="2.8" height="14.0" class="r"/><rect x="853.45" y="240.7" width="2.8" height="13.5" class="r"/><rect x="854.73" y="241.2" width="2.8" height="14.2" class="g"/><rect x="856.02" y="252.1" width="2.8" height="7.8" class="g"/><rect x="857.30" y="249.5" width="2.8" height="12.3" class="r"/><rect x="858.59" y="253.2" width="2.8" height="10.6" class="r"/><rect x="859.87" y="249.0" width="2.8" height="18.1" class="r"/><rect x="861.16" y="251.4" width="2.8" height="16.6" class="r"/><rect x="862.44" y="251.1" width="2.8" height="22.0" class="g"/><rect x="863.73" y="260.2" width="2.8" height="12.9" class="r"/><rect x="865.01" y="264.5" width="2.8" height="9.8" class="g"/><rect x="866.30" y="266.8" width="2.8" height="9.4" class="r"/><rect x="867.58" y="264.0" width="2.8" height="9.0" class="g"/><rect x="868.87" y="266.1" width="2.8" height="11.0" class="g"/><rect x="870.15" y="267.9" width="2.8" height="8.8" class="g"/><rect x="871.44" y="261.5" width="2.8" height="12.9" class="r"/><rect x="872.72" y="263.3" width="2.8" height="11.6" class="g"/><rect x="874.01" y="260.6" width="2.8" height="8.6" class="r"/><rect x="875.29" y="261.8" width="2.8" height="11.1" class="r"/><rect x="876.58" y="259.7" width="2.8" height="10.5" class="r"/><rect x="877.86" y="259.4" width="2.8" height="11.0" class="r"/><rect x="879.15" y="256.3" width="2.8" height="13.7" class="g"/><rect x="880.44" y="259.3" width="2.8" height="11.2" class="r"/><rect x="881.72" y="259.2" width="2.8" height="13.8" class="r"/><rect x="883.01" y="258.1" width="2.8" height="11.2" class="r"/><rect x="884.29" y="259.4" width="2.8" height="19.8" class="g"/><rect x="885.58" y="263.6" width="2.8" height="17.9" class="g"/><rect x="886.86" y="269.0" width="2.8" height="16.3" class="r"/><rect x="888.15" y="270.3" width="2.8" height="17.8" class="r"/><rect x="889.43" y="272.6" width="2.8" height="16.2" class="r"/><rect x="890.72" y="283.0" width="2.8" height="17.6" class="r"/><rect x="892.00" y="296.6" width="2.8" height="22.6" class="g"/><rect x="893.29" y="276.1" width="2.8" height="35.9" class="g"/><rect x="894.57" y="266.9" width="2.8" height="30.5" class="g"/><rect x="895.86" y="257.6" width="2.8" height="11.3" class="g"/><rect x="897.14" y="257.1" width="2.8" height="7.8" class="r"/><rect x="898.43" y="256.7" width="2.8" height="11.9" class="r"/><rect x="899.71" y="267.2" width="2.8" height="15.9" class="r"/><rect x="901.00" y="275.5" width="2.8" height="14.2" class="r"/><rect x="902.28" y="280.9" width="2.8" height="15.0" class="r"/><rect x="903.57" y="285.1" width="2.8" height="20.8" class="g"/><rect x="904.85" y="287.1" width="2.8" height="10.5" class="g"/><rect x="906.14" y="279.2" width="2.8" height="17.2" class="g"/><rect x="907.42" y="267.3" width="2.8" height="19.0" class="g"/><rect x="908.71" y="260.5" width="2.8" height="24.8" class="g"/><rect x="910.00" y="259.8" width="2.8" height="13.7" class="r"/><rect x="911.28" y="257.2" width="2.8" height="11.5" class="g"/><rect x="912.57" y="255.7" width="2.8" height="11.5" class="g"/><rect x="913.85" y="209.8" width="2.8" height="13.1" class="r"/><rect x="915.14" y="206.0" width="2.8" height="12.9" class="g"/><rect x="916.42" y="202.3" width="2.8" height="15.8" class="r"/><rect x="917.71" y="200.6" width="2.8" height="10.6" class="g"/><rect x="918.99" y="198.7" width="2.8" height="15.7" class="g"/><rect x="920.28" y="196.9" width="2.8" height="13.7" class="g"/><rect x="921.56" y="195.7" width="2.8" height="8.4" class="r"/><rect x="922.85" y="193.1" width="2.8" height="7.7" class="g"/><rect x="924.13" y="190.8" width="2.8" height="9.2" class="g"/><rect x="925.42" y="187.6" width="2.8" height="7.8" class="g"/><rect x="926.70" y="182.5" width="2.8" height="8.3" class="g"/><rect x="927.99" y="183.3" width="2.8" height="7.6" class="r"/><rect x="929.27" y="178.7" width="2.8" height="13.6" class="r"/><rect x="930.56" y="181.1" width="2.8" height="11.0" class="r"/><rect x="931.84" y="178.3" width="2.8" height="12.0" class="r"/><rect x="933.13" y="178.6" width="2.8" height="10.7" class="g"/><rect x="934.41" y="175.6" width="2.8" height="11.9" class="g"/><rect x="935.70" y="176.9" width="2.8" height="6.9" class="g"/><rect x="936.98" y="176.4" width="2.8" height="7.6" class="g"/><rect x="938.27" y="176.8" width="2.8" height="7.2" class="r"/><rect x="939.56" y="177.8" width="2.8" height="6.7" class="g"/><rect x="940.84" y="173.2" width="2.8" height="8.8" class="g"/><rect x="942.13" y="171.1" width="2.8" height="8.1" class="r"/><rect x="943.41" y="167.6" width="2.8" height="6.0" class="r"/><rect x="944.70" y="167.3" width="2.8" height="7.2" class="r"/><rect x="945.98" y="163.8" width="2.8" height="7.1" class="g"/><rect x="947.27" y="161.6" width="2.8" height="9.9" class="g"/><rect x="948.55" y="159.1" width="2.8" height="7.6" class="g"/><rect x="949.84" y="157.5" width="2.8" height="6.4" class="r"/><rect x="951.12" y="154.8" width="2.8" height="6.2" class="g"/><rect x="952.41" y="153.5" width="2.8" height="7.8" class="g"/><rect x="953.69" y="154.4" width="2.8" height="6.2" class="g"/><rect x="954.98" y="152.1" width="2.8" height="9.1" class="g"/><rect x="956.26" y="151.6" width="2.8" height="8.8" class="r"/><rect x="957.55" y="150.6" width="2.8" height="12.4" class="g"/><rect x="958.83" y="142.1" width="2.8" height="15.6" class="g"/><rect x="960.12" y="139.5" width="2.8" height="7.5" class="g"/><rect x="961.40" y="138.1" width="2.8" height="6.0" class="g"/><rect x="962.69" y="133.0" width="2.8" height="10.1" class="g"/><rect x="963.97" y="135.3" width="2.8" height="5.8" class="g"/><rect x="965.26" y="130.1" width="2.8" height="6.3" class="r"/><rect x="966.55" y="130.2" width="2.8" height="10.6" class="r"/><rect x="967.83" y="135.5" width="2.8" height="6.1" class="r"/><rect x="969.12" y="133.9" width="2.8" height="8.3" class="g"/><rect x="970.40" y="127.5" width="2.8" height="13.5" class="r"/><rect x="971.69" y="124.4" width="2.8" height="12.1" class="g"/><rect x="972.97" y="126.6" width="2.8" height="6.4" class="g"/><rect x="974.26" y="126.3" width="2.8" height="7.4" class="g"/><rect x="975.54" y="122.1" width="2.8" height="12.1" class="r"/><rect x="976.83" y="124.1" width="2.8" height="7.6" class="g"/><rect x="978.11" y="121.1" width="2.8" height="9.0" class="r"/><rect x="979.40" y="117.0" width="2.8" height="8.0" class="r"/><rect x="980.68" y="113.6" width="2.8" height="13.1" class="r"/><rect x="981.97" y="111.0" width="2.8" height="12.3" class="g"/><rect x="983.25" y="114.3" width="2.8" height="9.0" class="g"/><rect x="984.54" y="114.7" width="2.8" height="8.1" class="r"/><rect x="985.82" y="112.9" width="2.8" height="13.5" class="g"/><rect x="987.11" y="109.8" width="2.8" height="14.0" class="r"/><rect x="988.39" y="110.4" width="2.8" height="10.6" class="g"/><rect x="989.68" y="107.9" width="2.8" height="9.9" class="g"/><rect x="990.96" y="107.7" width="2.8" height="8.9" class="r"/><rect x="992.25" y="108.3" width="2.8" height="7.3" class="r"/><rect x="993.53" y="60.6" width="2.8" height="35.3" class="r"/><rect x="994.82" y="61.0" width="2.8" height="39.5" class="r"/><rect x="996.11" y="81.6" width="2.8" height="19.7" class="r"/><rect x="997.39" y="81.7" width="2.8" height="18.1" class="r"/><rect x="998.68" y="88.7" width="2.8" height="14.7" class="r"/><rect x="999.96" y="88.2" width="2.8" height="16.8" class="r"/><rect x="1001.25" y="96.1" width="2.8" height="10.5" class="r"/><rect x="1002.53" y="97.2" width="2.8" height="8.5" class="r"/><rect x="1003.82" y="90.3" width="2.8" height="15.3" class="r"/><rect x="1005.10" y="93.8" width="2.8" height="11.6" class="r"/><rect x="1006.39" y="93.8" width="2.8" height="16.9" class="r"/><rect x="1007.67" y="100.1" width="2.8" height="9.7" class="r"/><rect x="1008.96" y="102.3" width="2.8" height="11.7" class="r"/><rect x="1010.24" y="106.9" width="2.8" height="10.1" class="g"/><rect x="1011.53" y="112.9" width="2.8" height="10.5" class="r"/><rect x="1012.81" y="116.8" width="2.8" height="10.4" class="r"/><rect x="1014.10" y="120.9" width="2.8" height="6.5" class="r"/><rect x="1015.38" y="120.2" width="2.8" height="9.5" class="r"/><rect x="1016.67" y="118.0" width="2.8" height="13.1" class="r"/><rect x="1017.95" y="120.4" width="2.8" height="10.9" class="r"/><rect x="1019.24" y="115.7" width="2.8" height="17.0" class="r"/><rect x="1020.52" y="115.7" width="2.8" height="15.9" class="r"/><rect x="1021.81" y="117.5" width="2.8" height="12.0" class="g"/><rect x="1023.09" y="116.7" width="2.8" height="15.0" class="r"/><rect x="1024.38" y="115.4" width="2.8" height="18.7" class="r"/><rect x="1025.67" y="116.5" width="2.8" height="23.3" class="r"/><rect x="1026.95" y="122.7" width="2.8" height="9.2" class="r"/><rect x="1028.24" y="124.1" width="2.8" height="10.2" class="g"/><rect x="1029.52" y="127.5" width="2.8" height="6.0" class="r"/><rect x="1030.81" y="121.1" width="2.8" height="7.6" class="r"/><rect x="1032.09" y="115.2" width="2.8" height="8.5" class="g"/><rect x="1033.38" y="113.7" width="2.8" height="9.6" class="r"/><rect x="1034.66" y="110.1" width="2.8" height="11.7" class="g"/><rect x="1035.95" y="111.5" width="2.8" height="10.2" class="g"/><rect x="1037.23" y="107.2" width="2.8" height="10.2" class="r"/><rect x="1038.52" y="105.3" width="2.8" height="12.7" class="r"/><rect x="1039.80" y="109.1" width="2.8" height="12.3" class="r"/><rect x="1041.09" y="109.6" width="2.8" height="11.0" class="r"/><rect x="1042.37" y="112.9" width="2.8" height="9.3" class="g"/><rect x="1043.66" y="110.2" width="2.8" height="10.4" class="g"/><rect x="1044.94" y="111.0" width="2.8" height="7.3" class="g"/><rect x="1046.23" y="106.3" width="2.8" height="11.8" class="g"/><rect x="1047.51" y="103.6" width="2.8" height="9.9" class="r"/><rect x="1048.80" y="104.0" width="2.8" height="10.4" class="r"/><rect x="1050.08" y="98.9" width="2.8" height="12.6" class="g"/><rect x="1051.37" y="99.2" width="2.8" height="10.6" class="g"/><rect x="1052.65" y="95.8" width="2.8" height="10.6" class="g"/><rect x="1053.94" y="97.2" width="2.8" height="7.7" class="r"/><rect x="1055.23" y="99.0" width="2.8" height="6.5" class="r"/><rect x="1056.51" y="101.0" width="2.8" height="7.1" class="r"/><rect x="1057.80" y="101.9" width="2.8" height="15.4" class="r"/><rect x="1059.08" y="105.8" width="2.8" height="9.8" class="r"/><rect x="1060.37" y="108.1" width="2.8" height="13.0" class="g"/><rect x="1061.65" y="105.8" width="2.8" height="17.0" class="r"/><rect x="1062.94" y="105.0" width="2.8" height="11.5" class="g"/><rect x="1064.22" y="105.7" width="2.8" height="13.2" class="g"/><rect x="1065.51" y="103.6" width="2.8" height="10.3" class="g"/><rect x="1066.79" y="106.7" width="2.8" height="5.4" class="g"/><rect x="1068.08" y="102.7" width="2.8" height="5.2" class="g"/><rect x="1069.36" y="100.2" width="2.8" height="7.4" class="g"/><rect x="1070.65" y="97.7" width="2.8" height="10.1" class="g"/><rect x="1071.93" y="87.1" width="2.8" height="7.6" class="r"/><rect x="1073.22" y="64.1" width="2.8" height="17.8" class="r"/><rect x="1074.50" y="64.5" width="2.8" height="25.6" class="r"/><rect x="1075.79" y="87.4" width="2.8" height="23.4" class="r"/><rect x="1077.07" y="94.2" width="2.8" height="19.5" class="r"/><rect x="1078.36" y="99.6" width="2.8" height="13.5" class="r"/><rect x="1079.64" y="103.8" width="2.8" height="23.1" class="r"/><rect x="1080.93" y="111.3" width="2.8" height="26.5" class="r"/><rect x="1082.21" y="114.4" width="2.8" height="25.0" class="r"/><rect x="1083.50" y="116.8" width="2.8" height="24.3" class="r"/>
<path d="M121.0 491.3v3.5M138.9 491.3v3.5M165.8 491.3v3.5M191.6 491.3v3.5M216.1 491.3v3.5M246.1 491.3v3.5M270.5 491.3v3.5M298.2 491.3v3.5M325.5 491.3v3.5M350.8 491.3v3.5M380.3 491.3v3.5M406.6 491.3v3.5M435.0 491.3v3.5M461.3 491.3v3.5M487.6 491.3v3.5M514.5 491.3v3.5M540.3 491.3v3.5M565.8 491.3v3.5M594.2 491.3v3.5M622.4 491.3v3.5M647.4 491.3v3.5M675.0 491.3v3.5M701.8 491.3v3.5M728.9 491.3v3.5M758.4 491.3v3.5M784.2 491.3v3.5M811.0 491.3v3.5M836.8 491.3v3.5M861.0 491.3v3.5M888.7 491.3v3.5M915.5 491.3v3.5M942.1 491.3v3.5M967.7 491.3v3.5M996.1 491.3v3.5M1023.0 491.3v3.5M1050.5 491.3v3.5M1079.5 491.3v3.5M72.3 434.8h-3.5M72.3 373.9h-3.5M72.3 313.0h-3.5M72.3 252.1h-3.5M72.3 191.2h-3.5M72.3 130.3h-3.5M72.3 69.4h-3.5" stroke="#222" stroke-width="1" fill="none"/>
<text x="65.5" y="439.2" text-anchor="end" class="tl">$250.00</text>
<text x="65.5" y="378.3" text-anchor="end" class="tl">$300.00</text>
<text x="65.5" y="317.4" text-anchor="end" class="tl">$350.00</text>
<text x="65.5" y="256.5" text-anchor="end" class="tl">$400.00</text>
<text x="65.5" y="195.6" text-anchor="end" class="tl">$450.00</text>
<text x="65.5" y="134.7" text-anchor="end" class="tl">$500.00</text>
<text x="65.5" y="73.8" text-anchor="end" class="tl">$550.00</text>
<text transform="translate(118.8 505.5) rotate(-45)" text-anchor="end" class="tl">Nov 2022</text>
<text transform="translate(136.7 505.5) rotate(-45)" text-anchor="end" class="tl">Dec 2022</text>
<text transform="translate(163.6 505.5) rotate(-45)" text-anchor="end" class="tl">Jan 2023</text>
<text transform="translate(189.4 505.5) rotate(-45)" text-anchor="end" class="tl">Feb 2023</text>
<text transform="translate(213.9 505.5) rotate(-45)" text-anchor="end" class="tl">Mar 2023</text>
<text transform="translate(243.9 505.5) rotate(-45)" text-anchor="end" class="tl">Apr 2023</text>
<text transform="translate(268.3 505.5) rotate(-45)" text-anchor="end" class="tl">May 2023</text>
<text transform="translate(296.0 505.5) rotate(-45)" text-anchor="end" class="tl">Jun 2023</text>
<text transform="translate(323.3 505.5) rotate(-45)" text-anchor="end" class="tl">Jul 2023</text>
<text transform="translate(348.6 505.5) rotate(-45)" text-anchor="end" class="tl">Aug 2023</text>
<text transform="translate(378.1 505.5) rotate(-45)" text-anchor="end" class="tl">Sep 2023</text>
<text transform="translate(404.4 505.5) rotate(-45)" text-anchor="end" class="tl">Oct 2023</text>
<text transform="translate(432.8 505.5) rotate(-45)" text-anchor="end" class="tl">Nov 2023</text>
<text transform="translate(459.1 505.5) rotate(-45)" text-anchor="end" class="tl">Dec 2023</text>
<text transform="translate(485.4 505.5) rotate(-45)" text-anchor="end" class="tl">Jan 2024</text>
<text transform="translate(512.3 505.5) rotate(-45)" text-anchor="end" class="tl">Feb 2024</text>
<text transform="translate(538.1 505.5) rotate(-45)" text-anchor="end" class="tl">Mar 2024</text>
<text transform="translate(563.6 505.5) rotate(-45)" text-anchor="end" class="tl">Apr 2024</text>
<text transform="translate(592.0 505.5) rotate(-45)" text-anchor="end" class="tl">May 2024</text>
<text transform="translate(620.2 505.5) rotate(-45)" text-anchor="end" class="tl">Jun 2024</text>
<text transform="translate(645.2 505.5) rotate(-45)" text-anchor="end" class="tl">Jul 2024</text>
<text transform="translate(672.8 505.5) rotate(-45)" text-anchor="end" class="tl">Aug 2024</text>
<text transform="translate(699.6 505.5) rotate(-45)" text-anchor="end" class="tl">Sep 2024</text>
<text transform="translate(726.7 505.5) rotate(-45)" text-anchor="end" class="tl">Oct 2024</text>
<text transform="translate(756.2 505.5) rotate(-45)" text-anchor="end" class="tl">Nov 2024</text>
<text transform="translate(782.0 505.5) rotate(-45)" text-anchor="end" class="tl">Dec 2024</text>
<text transform="translate(808.8 505.5) rotate(-45)" text-anchor="end" class="tl">Jan 2025</text>
<text transform="translate(834.6 505.5) rotate(-45)" text-anchor="end" class="tl">Feb 2025</text>
<text transform="translate(858.8 505.5) rotate(-45)" text-anchor="end" class="tl">Mar 2025</text>
<text transform="translate(886.5 505.5) rotate(-45)" text-anchor="end" class="tl">Apr 2025</text>
<text transform="translate(913.3 505.5) rotate(-45)" text-anchor="end" class="tl">May 2025</text>
<text transform="translate(939.9 505.5) rotate(-45)" text-anchor="end" class="tl">Jun 2025</text>
<text transform="translate(965.5 505.5) rotate(-45)" text-anchor="end" class="tl">Jul 2025</text>
<text transform="translate(993.9 505.5) rotate(-45)" text-anchor="end" class="tl">Aug 2025</text>
<text transform="translate(1020.8 505.5) rotate(-45)" text-anchor="end" class="tl">Sep 2025</text>
<text transform="translate(1048.3 505.5) rotate(-45)" text-anchor="end" class="tl">Oct 2025</text>
<text transform="translate(1077.3 505.5) rotate(-45)" text-anchor="end" class="tl">Nov 2025</text>
<text x="428" y="22.5" textLength="350" lengthAdjust="spacingAndGlyphs" class="ti">3-Year Stock Price Performance</text>
<text x="585" y="556" textLength="35.5" lengthAdjust="spacingAndGlyphs" class="al">Date</text>
<text transform="translate(18 267.3) rotate(-90)" text-anchor="middle" textLength="64" lengthAdjust="spacingAndGlyphs" class="al">Price ($)</text>
</svg>
</body></html>
